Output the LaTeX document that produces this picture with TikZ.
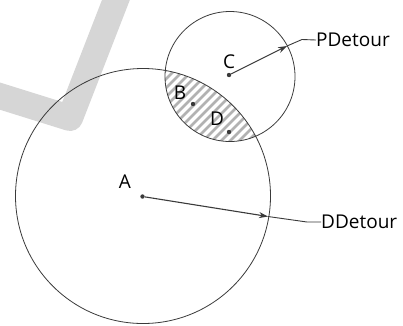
\documentclass[tikz,border=0pt]{standalone}
\usepackage{fontspec}
\setmainfont{Open Sans}
\usetikzlibrary{arrows.meta}
\definecolor{ink}{HTML}{3A3A3A}
\definecolor{wm}{HTML}{D6D6D6}
\definecolor{hatch}{HTML}{B2B2B2}
\tikzset{
  dot/.style={circle,fill=ink,inner sep=0pt,minimum size=4.4pt},
  lbl/.style={font=\fontsize{19}{19}\selectfont,text=black,inner sep=0pt},
  ring/.style={draw=ink,line width=0.8pt},
  arr/.style={draw=ink,line width=1.1pt,-{Stealth[length=9pt,width=6pt]}},
  leader/.style={draw=ink,line width=0.9pt},
  stripe/.style={draw=hatch,line width=2.6pt}
}
\begin{document}
\begin{tikzpicture}[x=1pt,y=-1pt]
\useasboundingbox (0,0) rectangle (403,325);
% watermark
\draw[wm,line width=26pt,line join=round] (-10,93) -- (70,118) -- (119,-8);
% points
\coordinate (Ac) at (143,196);
\coordinate (Cc) at (230,76.5);
% hatching in lens
\begin{scope}
  \clip (Ac) circle (127.5);
  \clip (Cc) circle (65);
  \foreach \s in {200,209,...,430} {
    \draw[stripe] (\s-200,200) -- (\s,0);
  }
\end{scope}
% circles
\draw[ring] (Ac) circle (127.5);
\draw[ring] (Cc) circle (65);
% dots
\node[dot] (A) at (142.5,196.5) {};
\node[dot] (B) at (193,104) {};
\node[dot] (C) at (229,75) {};
\node[dot] (D) at (229,132) {};
% labels
\node[lbl] (lA) at (125,182) {A};
\node[lbl] (lB) at (180,93) {B};
\node[lbl] (lC) at (229,62) {C};
\node[lbl] (lD) at (217,119) {D};
% arrows
\coordinate (tC) at (287,46);
\coordinate (kC) at (302,39.5);
\node[lbl,anchor=west] (PD) at (316,40) {PDetour};
\draw[arr] (C) -- (tC);
\draw[leader] (tC) -- (kC) -- (PD.west);
\coordinate (tA) at (268,216.5);
\coordinate (kA) at (307,222);
\node[lbl,anchor=west] (DD) at (321,222) {DDetour};
\draw[arr] (A) -- (tA);
\draw[leader] (tA) -- (kA) -- (DD.west);
\end{tikzpicture}
\end{document}
